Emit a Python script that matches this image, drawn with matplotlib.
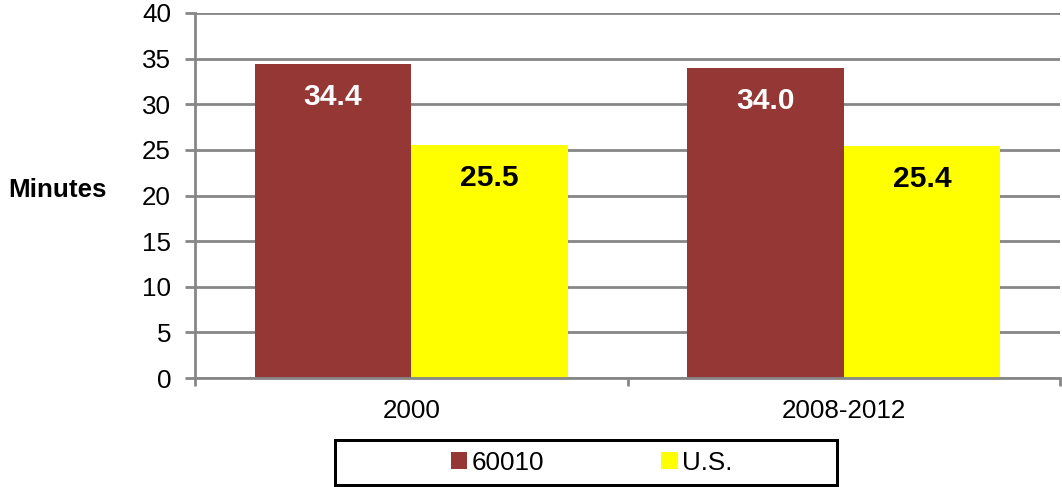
import matplotlib
matplotlib.use("Agg")
import matplotlib.pyplot as plt
from matplotlib.patches import Rectangle
import numpy as np

categories = ["2000", "2008-2012"]
series_names = ["60010", "U.S."]
values_60010 = [34.4, 34.0]
values_us = [25.5, 25.4]
label_60010 = ["34.4", "34.0"]
label_us = ["25.5", "25.4"]
yticks = [0, 5, 10, 15, 20, 25, 30, 35, 40]

plt.rcParams['font.family'] = ['Liberation Sans', 'DejaVu Sans']

DPI = 72
fig = plt.figure(figsize=(1062 / DPI, 487 / DPI), dpi=DPI)
ax = fig.add_axes([195 / 1062, 1 - 378 / 487, (1060 - 195) / 1062, (378 - 13) / 487])

grid_c = "#878787"
red = "#953735"
yellow = "#FFFF00"

x = np.arange(len(categories))
w = 0.362
b1 = ax.bar(x - w / 2, values_60010, width=w, color=red, zorder=3, label=series_names[0])
b2 = ax.bar(x + w / 2, values_us, width=w, color=yellow, zorder=3, label=series_names[1])

for rect, lab in zip(b1, label_60010):
    ax.annotate(lab, (rect.get_x() + rect.get_width() / 2, rect.get_height()),
                xytext=(0, -33), textcoords="offset points", ha="center", va="center",
                fontsize=30, fontweight="bold", color="white", zorder=4)
for rect, lab in zip(b2, label_us):
    ax.annotate(lab, (rect.get_x() + rect.get_width() / 2, rect.get_height()),
                xytext=(0, -33), textcoords="offset points", ha="center", va="center",
                fontsize=30, fontweight="bold", color="black", zorder=4)

ax.set_xlim(-0.5, 1.5)
ax.set_ylim(0, 40)
ax.set_yticks(yticks)
ax.yaxis.grid(True, color=grid_c, linewidth=2.8, zorder=0)
ax.set_axisbelow(True)

for s in ["top", "right"]:
    ax.spines[s].set_visible(False)
for s in ["left", "bottom"]:
    ax.spines[s].set_color(grid_c)
    ax.spines[s].set_linewidth(2.8)
    ax.spines[s].set_zorder(5)

ax.tick_params(axis="y", length=10, width=2.8, color=grid_c, labelsize=26, pad=14)
ax.set_xticks(x)
ax.set_xticklabels(categories)
ax.set_xticks([-0.5, 0.5, 1.5], minor=True)
ax.tick_params(axis="x", which="major", length=0, labelsize=26, pad=21)
ax.tick_params(axis="x", which="minor", length=8, width=2.8, color=grid_c)

fig.text(8 / 1062, 1 - 190 / 487, "Minutes", fontsize=26, fontweight="bold",
         ha="left", va="center")

# legend frame
fig.patches.append(Rectangle((335 / 1062, 1 - 485 / 487), (837 - 335) / 1062, (485 - 440) / 487,
                             transform=fig.transFigure, fill=False, edgecolor="black",
                             linewidth=3, zorder=5))
fig.legend(handles=[b1, b2], labels=series_names, loc="center",
           bbox_to_anchor=((335 + 837) / 2 / 1062 + 0.005, 1 - 462.5 / 487), ncol=2,
           frameon=False, fontsize=26, handlelength=0.65, handleheight=0.65,
           handletextpad=0.15, columnspacing=4.5, borderpad=0)

fig.savefig("out.png", dpi=DPI)
